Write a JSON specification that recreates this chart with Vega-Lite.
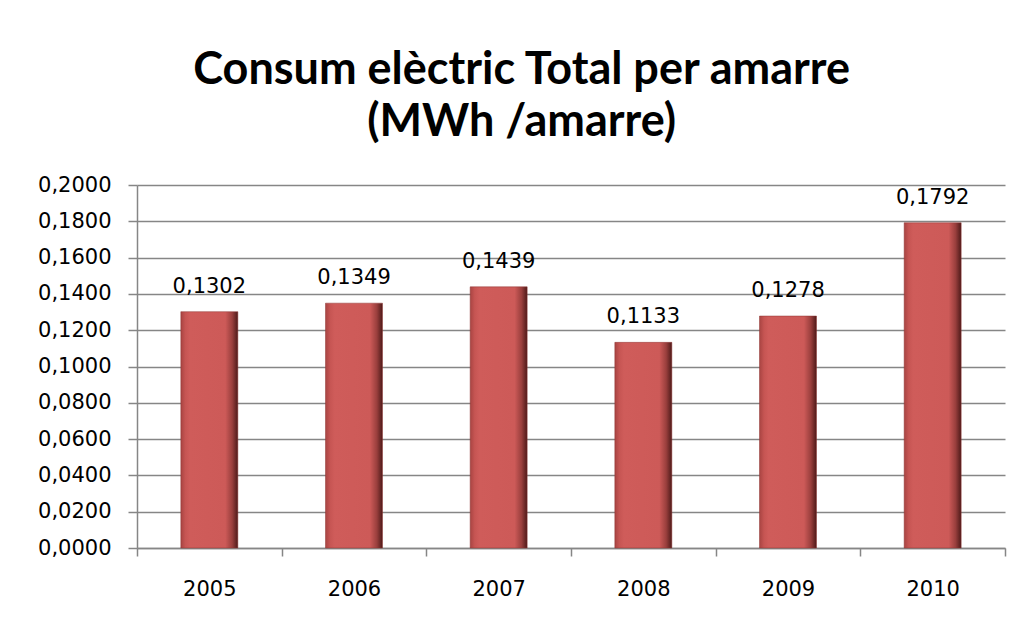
{
  "$schema": "https://vega.github.io/schema/vega-lite/v6.json",
  "width": 868,
  "height": 363,
  "autosize": {"type": "none"},
  "padding": {"left": 137, "top": 185, "right": 13, "bottom": 78},
  "background": "white",
  "config": {
    "locale": {"number": {"decimal": ",", "thousands": ".", "grouping": [3], "currency": ["", " €"]}},
    "view": {"stroke": null},
    "font": "DejaVu Sans"
  },
  "title": {
    "text": ["Consum elèctric Total per amarre", "(MWh /amarre)"],
    "font": "Lato",
    "fontSize": 45,
    "fontWeight": "bold",
    "color": "#000000",
    "lineHeight": 52,
    "anchor": "middle",
    "frame": "bounds",
    "offset": 29
  },
  "data": {
    "values": [
      {"year": "2005", "value": 0.1302},
      {"year": "2006", "value": 0.1349},
      {"year": "2007", "value": 0.1439},
      {"year": "2008", "value": 0.1133},
      {"year": "2009", "value": 0.1278},
      {"year": "2010", "value": 0.1792}
    ]
  },
  "encoding": {
    "x": {
      "field": "year",
      "type": "nominal",
      "scale": {"paddingInner": 0, "paddingOuter": 0},
      "axis": {
        "title": null,
        "labelAngle": 0,
        "labelFont": "DejaVu Sans",
        "labelFontSize": 21,
        "labelColor": "#000000",
        "labelPadding": 22,
        "ticks": true,
        "tickBand": "extent",
        "tickExtra": true,
        "tickSize": 8,
        "tickWidth": 1.5,
        "tickColor": "#868686",
        "tickOpacity": 1,
        "domain": true,
        "domainColor": "#868686",
        "domainWidth": 1.5,
        "grid": false
      }
    },
    "y": {
      "field": "value",
      "type": "quantitative",
      "scale": {"domain": [0, 0.2], "nice": false},
      "axis": {
        "title": null,
        "values": [0, 0.02, 0.04, 0.06, 0.08, 0.1, 0.12, 0.14, 0.16, 0.18, 0.2],
        "format": ".4f",
        "labelFont": "DejaVu Sans",
        "labelFontSize": 21,
        "labelColor": "#000000",
        "labelPadding": 17,
        "ticks": true,
        "tickSize": 9,
        "tickWidth": 1.5,
        "tickColor": "#868686",
        "domain": true,
        "domainColor": "#868686",
        "domainWidth": 1.5,
        "grid": true,
        "gridColor": "#868686",
        "gridWidth": 1.5
      }
    }
  },
  "layer": [
    {
      "mark": {
        "type": "bar",
        "width": {"band": 0.394},
        "color": {
          "gradient": "linear",
          "x1": 0, "y1": 0, "x2": 1, "y2": 0,
          "stops": [
            {"offset": 0, "color": "#A84442"},
            {"offset": 0.08, "color": "#C65553"},
            {"offset": 0.16, "color": "#CF5C5A"},
            {"offset": 0.78, "color": "#CD5A58"},
            {"offset": 0.9, "color": "#9A3F3D"},
            {"offset": 1, "color": "#4E1A19"}
          ]
        },
        "stroke": "#8E3432",
        "strokeWidth": 0.5
      }
    },
    {
      "mark": {
        "type": "text",
        "baseline": "alphabetic",
        "dy": -19,
        "font": "DejaVu Sans",
        "fontSize": 21,
        "color": "#000000"
      },
      "encoding": {
        "text": {"field": "value", "type": "quantitative", "format": ".4f"}
      }
    }
  ]
}
